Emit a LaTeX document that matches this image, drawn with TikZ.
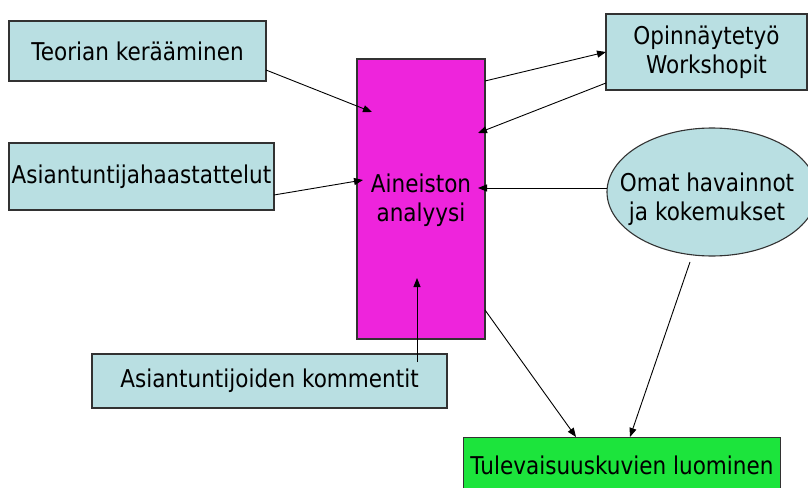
\documentclass[tikz,border=0pt]{standalone}
\usepackage{fontspec}
\setmainfont[FakeStretch=0.88]{DejaVu Sans}
\usetikzlibrary{arrows.meta,shapes.geometric}
\definecolor{boxblue}{RGB}{185,223,226}
\definecolor{magbox}{RGB}{238,36,220}
\definecolor{grnbox}{RGB}{28,228,60}
\definecolor{edgegray}{RGB}{50,50,50}
\tikzset{
  txt/.style={font=\fontsize{24.5}{28.5}\selectfont, align=center, inner sep=0pt},
  base/.style={txt, draw=edgegray, line width=1.1pt},
  bluebox/.style={base, rectangle, fill=boxblue},
  arr/.style={-{Triangle[length=9pt,width=7pt]}, line width=0.9pt, black},
}
\begin{document}
\begin{tikzpicture}[x=1pt,y=-1pt]
\clip (0,0) rectangle (808,487);
\fill[white] (0,0) rectangle (808,487);
% nodes
\node[bluebox, minimum width=257pt, minimum height=60pt] (teo) at (137.5,51) {Teorian kerääminen};
\node[bluebox, minimum width=265pt, minimum height=67pt] (haas) at (141.5,176.5) {Asiantuntijahaastattelut};
\node[base, rectangle, fill=magbox, minimum width=128pt, minimum height=280pt] (ana) at (421,199) {};
\node[txt] (anatxt) at (421,200) {Aineiston\\analyysi};
\node[bluebox, minimum width=201pt, minimum height=76pt] (opin) at (706.5,52) {Opinnäytetyö\\Workshopit};
\node[base, ellipse, fill=boxblue, minimum width=210pt, minimum height=128pt] (omat) at (712,192) {};
\node[txt] (omattxt) at (707,199) {Omat havainnot\\ja kokemukset};
\node[bluebox, minimum width=355pt, minimum height=54pt] (komm) at (269.5,381) {Asiantuntijoiden kommentit};
\node[base, rectangle, fill=grnbox, minimum width=317pt, minimum height=64pt, anchor=north west] (tul) at (463,437) {};
\node[txt] (tultxt) at (622,465) {Tulevaisuuskuvien luominen};
% free ends
\coordinate (c1) at (372,112);
\coordinate (c2) at (363,180);
\coordinate (c4) at (478,133);
\coordinate (c5) at (478,188);
\coordinate (c6) at (417,278);
\coordinate (s1) at (266,70);
\coordinate (s2) at (274,195);
\coordinate (s3) at (485,81);
\coordinate (t3) at (606,52);
\coordinate (s4) at (606,83);
\coordinate (s5) at (607,188);
\coordinate (s6) at (417,362);
\coordinate (s7) at (485,310);
\coordinate (t7) at (576,437);
\coordinate (s8) at (690,262);
\coordinate (t8) at (630,437);
% connectors
\draw[arr] (s1) -- (c1);
\draw[arr] (s2) -- (c2);
\draw[arr] (s3) -- (t3);
\draw[arr] (s4) -- (c4);
\draw[arr] (s5) -- (c5);
\draw[arr] (s6) -- (c6);
\draw[arr] (s7) -- (t7);
\draw[arr] (s8) -- (t8);
\end{tikzpicture}
\end{document}
